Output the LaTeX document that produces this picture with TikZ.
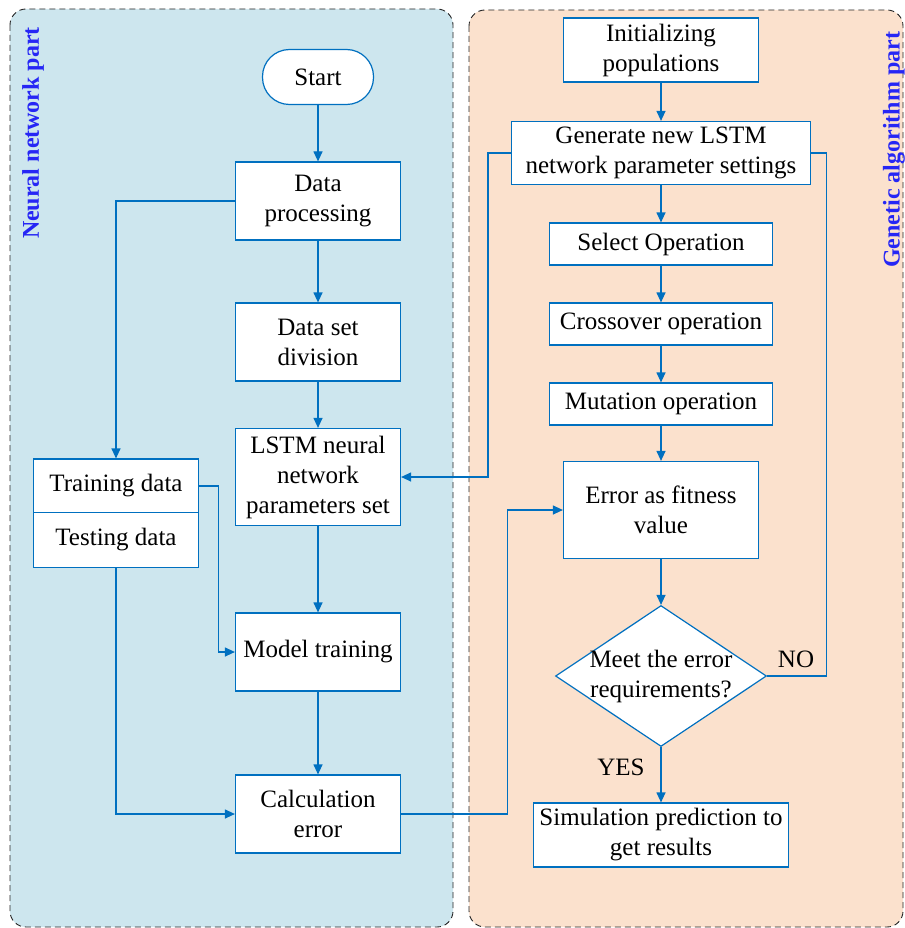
\documentclass[tikz,border=0pt]{standalone}
\usepackage{fontspec}
\setmainfont{Liberation Serif}
\usetikzlibrary{arrows.meta,shapes.geometric}
\definecolor{flowblue}{HTML}{0070C0}
\definecolor{nnback}{HTML}{CDE6EE}
\definecolor{gaback}{HTML}{FBE1CD}
\definecolor{titleblue}{HTML}{2626F5}

\begin{document}
\begin{tikzpicture}[x=1pt,y=-1pt,
    every node/.style={font=\fontsize{25}{30}\selectfont},
    box/.style={draw=flowblue,fill=white,line width=1.2pt,align=center,inner sep=0pt,minimum width=165,minimum height=78},
    gabox/.style={box,minimum width=223,minimum height=42},
    decision/.style={diamond,draw=flowblue,fill=white,line width=1.2pt,minimum width=211,minimum height=141,inner sep=0pt},
    flow/.style={draw=flowblue,line width=1.2pt,-{Triangle[length=10pt,width=9pt]}},
    link/.style={draw=flowblue,line width=1.2pt},
    panel/.style={draw=black!85,line width=0.9pt,dash pattern=on 6pt off 4pt,rounded corners=16},
    parttitle/.style={rotate=90,text=titleblue,font=\bfseries\fontsize{24}{28}\selectfont}]
    \useasboundingbox (0,0) rectangle (904,928);
    % Two parts of the method
    \draw[panel,fill=nnback] (10,9) rectangle (453,927);
    \draw[panel,fill=gaback] (469,10) rectangle (903,927);
    \node[parttitle] (nntitle) at (33,133) {Neural network part};
    \node[parttitle] (gatitle) at (894,150) {Genetic algorithm part};
    % Neural network part
    \node[box,rounded corners=27,minimum width=111,minimum height=55] (start) at (318,77) {Start};
    \node[box] (dp) at (318,201) {Data\\processing};
    \node[box] (dsd) at (318,342) {Data set\\division};
    \node[box,minimum height=97] (lstm) at (318,477) {LSTM neural\\network\\parameters set};
    \node[box,minimum height=54] (train) at (116,486) {Training data};
    \node[box,minimum height=55] (test) at (116,540) {Testing data};
    \node[box] (mt) at (318,652) {Model training};
    \node[box] (ce) at (318,814) {Calculation\\error};
    % Genetic algorithm part
    \node[box,minimum width=195,minimum height=64] (init) at (661,50) {Initializing\\populations};
    \node[box,minimum width=299,minimum height=63] (gen) at (661,153) {Generate new LSTM\\network parameter settings};
    \node[gabox] (sel) at (661,244) {Select Operation};
    \node[gabox] (cross) at (661,324) {Crossover operation};
    \node[gabox] (mut) at (661,404) {Mutation operation};
    \node[box,minimum width=195,minimum height=97] (err) at (661,510) {Error as fitness\\value};
    \node[decision] (check) at (661,676) {};
    \node[align=center] (checktext) at (check) {Meet the error\\requirements?};
    \node[box,minimum width=255,minimum height=64] (sim) at (661,835) {Simulation prediction to\\get results};
    % Connectors
    \foreach \from/\to in {start/dp,dp/dsd,dsd/lstm,lstm/mt,mt/ce,init/gen,gen/sel,sel/cross,cross/mut,mut/err,err/check}
      \draw[flow] (\from) -- (\to);
    \draw[flow] (dp.west) -| (train.north);
    \draw[flow] (train.east) -- ++(19,0) |- (mt.west);
    \draw[flow] (test.south) |- (ce.west);
    \draw[flow] (ce.east) -- ++(106,0) |- (err.west);
    \draw[flow] (gen.west) -- ++(-23,0) |- (lstm.east);
    \draw[link] (check.east) -- ++(59,0) |- (gen.east);
    \draw[flow] (check.south) -- (sim.north);
    \node (no) at (796,659) {NO};
    \node (yes) at (621,767) {YES};
\end{tikzpicture}
\end{document}
